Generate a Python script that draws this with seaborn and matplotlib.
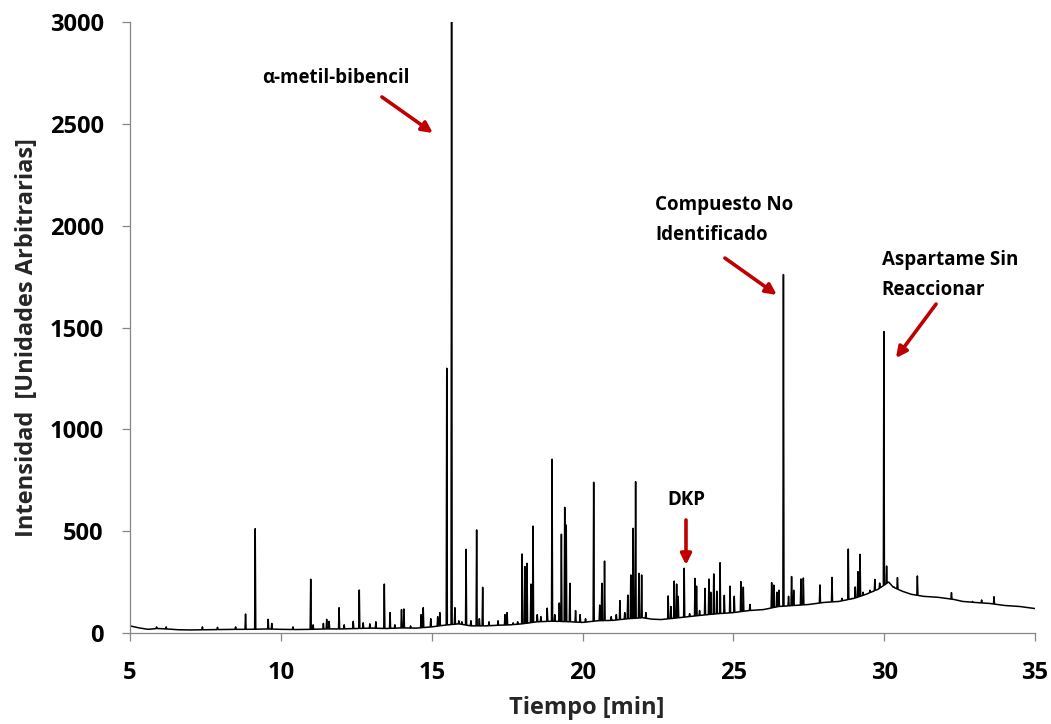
import numpy as np
import pandas as pd
import matplotlib
matplotlib.use("Agg")
import matplotlib.pyplot as plt
import seaborn as sns

# Baseline of the chromatogram (retention time [min], intensity)
base_t = [5.0, 5.3, 5.6, 5.9, 6.2, 6.6, 7.0, 7.5, 8.0, 8.5, 9.0, 9.5, 10.0,
          10.5, 11.0, 11.5, 12.0, 12.5, 13.0, 13.5, 14.0, 14.5, 15.0, 15.4,
          15.9, 16.3, 16.8, 17.2, 17.6, 18.0, 18.5, 19.0, 19.6, 20.0, 20.5,
          21.0, 21.5, 22.0, 22.3, 22.6, 23.0, 23.5, 24.0, 24.5, 25.0, 25.5,
          26.0, 26.5, 27.0, 27.5, 28.0, 28.5, 29.0, 29.4, 29.8, 30.15, 30.3,
          30.6, 30.9, 31.3, 31.8, 32.3, 32.6, 33.0, 33.5, 34.0, 34.5, 35.0]
base_i = [35, 25, 18, 22, 20, 16, 15, 16, 17, 18, 18, 20, 18,
          17, 18, 20, 20, 22, 24, 22, 25, 24, 30, 38,
          45, 35, 35, 38, 40, 45, 55, 58, 55, 52, 60,
          62, 70, 75, 68, 66, 72, 80, 88, 95, 100, 110,
          115, 130, 135, 140, 150, 155, 170, 190, 215, 250, 225,
          205, 190, 180, 175, 165, 155, 150, 145, 135, 130, 120]

# Peak apexes (retention time [min], intensity)
peak_t = [5.88, 6.2, 7.4, 7.9, 8.5, 8.83, 9.15, 9.58, 9.7, 10.4,
          10.99, 11.07, 11.41, 11.52, 11.6, 11.93, 12.1, 12.4, 12.6, 12.73,
          12.95, 13.15, 13.43, 13.62, 13.78, 14.0, 14.08, 14.3, 14.65, 14.72,
          14.97, 15.2, 15.27, 15.5, 15.66, 15.77, 15.9, 16.0, 16.14, 16.3,
          16.49, 16.58, 16.69, 16.9, 17.2, 17.43, 17.5, 17.7, 17.85, 18.0,
          18.09, 18.16, 18.29, 18.36, 18.5, 18.62, 18.83, 18.99, 19.08, 19.23,
          19.30, 19.41, 19.46, 19.58, 19.77, 19.92, 20.1, 20.37, 20.57, 20.64,
          20.73, 20.95, 21.12, 21.24, 21.4, 21.5, 21.6, 21.68, 21.76, 21.87,
          21.96, 22.1, 22.84, 22.93, 23.04, 23.12, 23.17, 23.37, 23.55, 23.73,
          23.78, 23.88, 24.06, 24.19, 24.25, 24.35, 24.45, 24.56, 24.7, 24.89,
          25.03, 25.25, 25.33, 25.55, 26.27, 26.34, 26.44, 26.51, 26.66, 26.83,
          26.93, 27.0, 27.24, 27.32, 27.87, 28.27, 28.6, 28.81, 28.93, 29.04,
          29.13, 29.2, 29.3, 29.53, 29.69, 29.85, 29.99, 30.08, 30.33, 30.44,
          31.1, 32.23, 32.93, 33.23, 33.64]
peak_i = [30, 30, 30, 28, 30, 93, 512, 67, 47, 30,
          264, 40, 47, 67, 57, 124, 40, 57, 211, 50,
          45, 55, 240, 100, 40, 115, 118, 35, 90, 124,
          70, 80, 100, 1300, 3080, 124, 60, 55, 411, 60,
          506, 70, 224, 55, 60, 90, 100, 50, 55, 388,
          326, 342, 240, 525, 90, 80, 122, 853, 90, 147,
          485, 617, 530, 244, 110, 90, 70, 740, 137, 244,
          353, 80, 90, 159, 100, 186, 285, 514, 743, 293,
          285, 100, 182, 130, 255, 240, 180, 318, 95, 268,
          230, 110, 219, 265, 200, 290, 205, 345, 185, 230,
          180, 252, 225, 140, 247, 235, 200, 210, 1760, 180,
          277, 210, 265, 270, 236, 273, 170, 412, 170, 226,
          301, 386, 200, 210, 263, 245, 1480, 329, 226, 272,
          280, 198, 155, 162, 178]

x_ticks = [5, 10, 15, 20, 25, 30, 35]
y_ticks = [0, 500, 1000, 1500, 2000, 2500, 3000]

# Build the trace: baseline knots plus a narrow triangle for every peak
half_w = 0.018
pt = np.array(peak_t)
bt = np.array(base_t)
keep = np.array([np.min(np.abs(pt - t)) > half_w for t in bt])
t_pts = list(bt[keep])
i_pts = list(np.array(base_i)[keep])
for t, h in zip(peak_t, peak_i):
    for dt, val in ((-half_w, None), (0.0, h), (half_w, None)):
        tt = t + dt
        t_pts.append(tt)
        i_pts.append(val if val is not None else float(np.interp(tt, base_t, base_i)))
order = np.argsort(t_pts, kind="stable")
trace = pd.DataFrame({"Tiempo": np.array(t_pts)[order],
                      "Intensidad": np.array(i_pts)[order]})

sns.set_style("ticks")
plt.rcParams["font.family"] = ["Open Sans", "DejaVu Sans"]
plt.rcParams["font.weight"] = "bold"

fig = plt.figure(figsize=(10.51, 7.24), dpi=100)
ax = fig.add_axes([0.1237, 0.1257, 0.8611, 0.8439])

sns.lineplot(data=trace, x="Tiempo", y="Intensidad", estimator=None,
             color="black", linewidth=1.1, ax=ax)

ax.set_xlim(5, 35)
ax.set_ylim(0, 3000)
ax.set_xticks(x_ticks)
ax.set_yticks(y_ticks)
ax.set_xticklabels([str(v) for v in x_ticks])
ax.set_yticklabels([str(v) for v in y_ticks])

axis_grey = "#868686"
for side in ("top", "right"):
    ax.spines[side].set_visible(False)
for side in ("left", "bottom"):
    ax.spines[side].set_color(axis_grey)
    ax.spines[side].set_linewidth(0.9)
ax.tick_params(axis="both", direction="out", length=6, width=0.9,
               color=axis_grey, labelsize=17, labelcolor="black")
ax.xaxis.set_tick_params(pad=14)
ax.yaxis.set_tick_params(pad=13)
for lab in ax.get_xticklabels() + ax.get_yticklabels():
    lab.set_fontweight("bold")

ax.set_xlabel("Tiempo [min]", fontsize=17, fontweight="bold")
ax.set_ylabel("Intensidad  [Unidades Arbitrarias]", fontsize=17, fontweight="bold")
ax.xaxis.set_label_coords(0.5044, -0.103)
ax.yaxis.set_label_coords(-0.101, 0.4836)

red = "#C00000"
arrow = dict(arrowstyle="-|>", color=red, lw=2.6, mutation_scale=16,
             shrinkA=0, shrinkB=0)
txt = dict(fontsize=13.5, fontweight="bold", color="black", linespacing=1.65)

ax.text(9.37, 2699, "α-metil-bibencil", ha="left", va="baseline", **txt)
ax.annotate("", xy=(15.04, 2455), xytext=(13.35, 2632), arrowprops=arrow)

ax.text(22.40, 2150, "Compuesto No\nIdentificado", ha="left", va="top", **txt)
ax.annotate("", xy=(26.44, 1660), xytext=(24.72, 1841), arrowprops=arrow)

ax.text(29.92, 1881, "Aspartame Sin\nReaccionar", ha="left", va="top", **txt)
ax.annotate("", xy=(30.39, 1350), xytext=(31.72, 1615), arrowprops=arrow)

ax.text(23.43, 700, "DKP", ha="center", va="top", **txt)
ax.annotate("", xy=(23.43, 334), xytext=(23.43, 555), arrowprops=arrow)

fig.savefig("out.png", dpi=100)
